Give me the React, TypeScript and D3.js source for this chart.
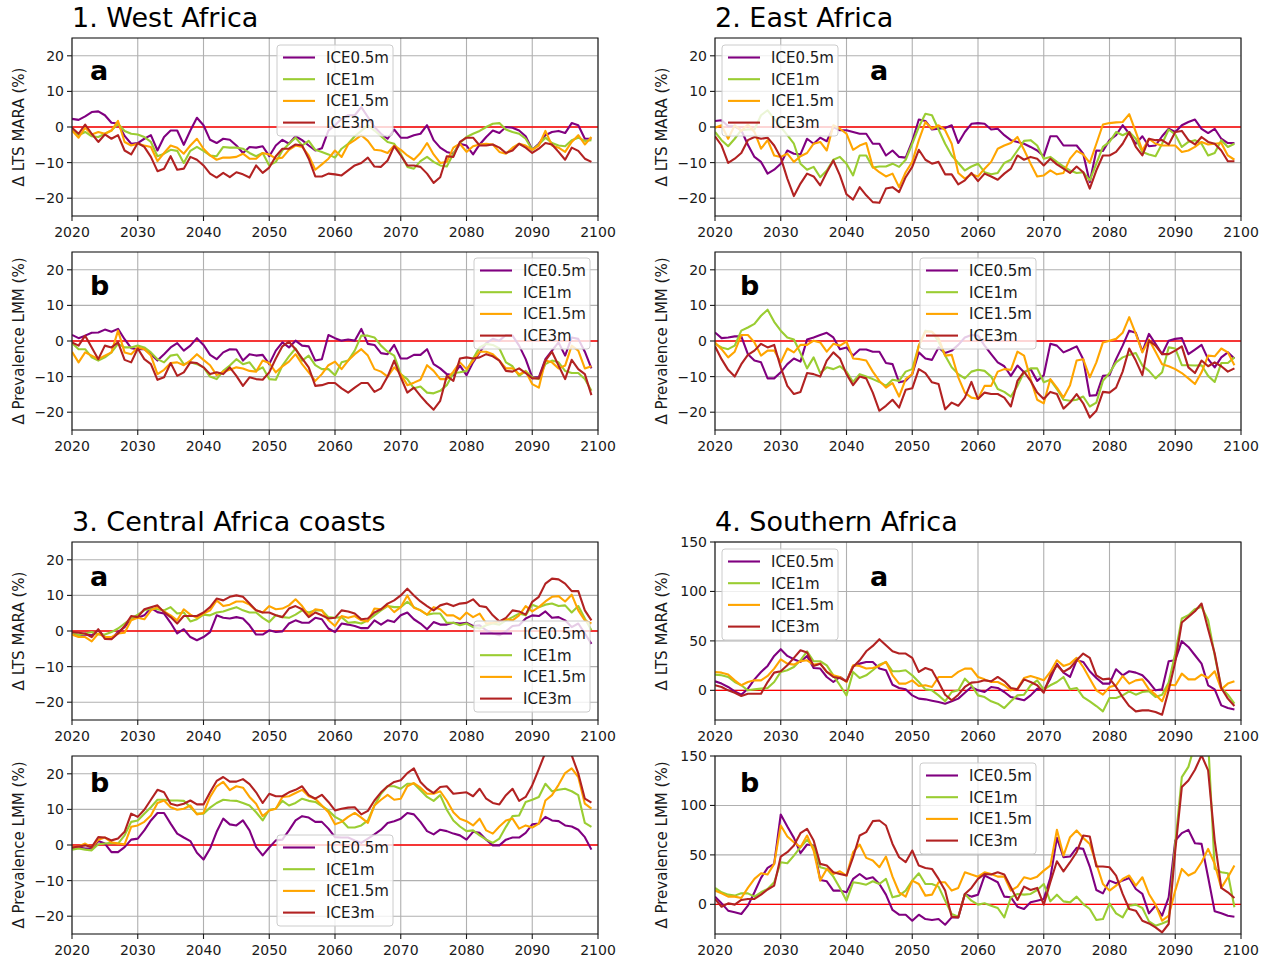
import React from "react";
import * as d3 from "d3";

// Annual values 2020–2099, change relative to baseline (%)
const years = d3.range(2020, 2100);
const seriesNames = ["ICE0.5m", "ICE1m", "ICE1.5m", "ICE3m"];
const seriesColors = ["#800080", "#9acd32", "#ffa500", "#b22222"];
const xTicks = [2020, 2030, 2040, 2050, 2060, 2070, 2080, 2090, 2100];
const smallTicks = [-20, -10, 0, 10, 20];
const largeTicks = [0, 50, 100, 150];

// 1. West Africa — LTS MARA
const westMara05 = [
  2.3, 2, 3, 4.2, 4.4, 3.3, 1.2, 1, -2.5, -4.7,
  -4.5, -3.3, -2.3, -6.6, -2.8, -1, -1, -5, -1, 2.6,
  0.5, -3.6, -4.5, -3.3, -3.6, -5.2, -7.3, -5.6, -5.8, -5.4,
  -8.2, -5.2, -3.6, -4.7, -2.6, -3.7, -5.2, -6.6, -6, -1,
  0.5, 2.3, 3.3, 3.3, 5.6, 2.8, 0, -1.9, -3.3, -0.7,
  -3, -3, -2.3, -1.9, 0.5, -3.7, -5.8, -7, -7.5, -4.7,
  -5.2, -7.7, -4.9, -2.8, -1, -1.7, 0, -0.2, -1, -2.6,
  -6.4, -4.7, -2.3, -1.4, -1.1, -1.7, 1.1, 0.5, -3.3, -3.3,
];
const westMara1 = [
  -1, -2.3, -1.4, -2.6, -2.8, -1.9, -1, 0.9, -1.1, -1.9,
  -2.1, -2.8, -4.2, -8.2, -7.5, -6.4, -6.7, -10.1, -6.7, -5.6,
  -6.7, -8, -8.2, -5.6, -5.8, -5.8, -6.1, -7.3, -8.2, -7.3,
  -10.8, -9.8, -6.6, -4.7, -3, -5.2, -3.9, -6.4, -7, -7.7,
  -8.6, -6.1, -4.7, -2.6, -1.1, 0.5, -1, -2.6, -4.2, -4.7,
  -7.5, -11.2, -11.7, -9.6, -8.4, -9.8, -10.8, -11.1, -7.5, -4.5,
  -2.8, -1.9, -1.1, 0, 0.9, 1.1, -0.7, -1.4, -1.9, -3.3,
  -6.4, -4.9, -3, -4.5, -5.2, -5.4, -3.7, -3, -3.9, -3.7,
];
const westMara15 = [
  -1, -3, -0.2, -2.1, -1.4, -1.9, -1, 1.7, -4.2, -5.2,
  -4.7, -5.2, -5.6, -9.6, -7.3, -5.2, -5.8, -7.5, -5.2, -3.3,
  -6.1, -8, -9.2, -8.6, -8.6, -8.4, -7.5, -8.9, -8.9, -7.3,
  -7.7, -8.9, -8.6, -6.4, -5.2, -5.6, -8, -12, -10.5, -8.9,
  -6.6, -8.4, -4.9, -3.7, -2.3, -3.9, -6.4, -6.6, -7.3, -5.2,
  -6.4, -8, -9.2, -7.3, -4.5, -7.7, -10.1, -9.8, -5.8, -4.7,
  -7, -5.4, -4.9, -4.7, -4.9, -7, -7.5, -5.8, -4.7, -5.2,
  -6.4, -5.2, -1.1, -5.2, -5.8, -7, -4.2, -2.3, -4.9, -2.8,
];
const westMara3 = [
  -0.2, -1.9, 0.7, -1.9, -4.2, -2.1, -3.3, -2.3, -6.6, -7.7,
  -4.5, -5.6, -8.4, -12.4, -11.7, -8.2, -12, -11.7, -8.4, -9.2,
  -10.8, -13.1, -14.2, -12.9, -14.1, -12.7, -13.3, -14.2, -10.8, -12.9,
  -11.4, -8.2, -6.1, -6.1, -4.9, -5.2, -8.9, -13.9, -13.9, -13.1,
  -13.3, -13.6, -12.2, -10.8, -10.1, -8.6, -11.1, -11.2, -9.4, -5.4,
  -8, -10.8, -10.8, -11.2, -13.1, -15.7, -14.1, -8.2, -8.4, -4.2,
  -3, -3, -5.2, -5.2, -4.9, -5.8, -7.3, -6.6, -4.7, -5.8,
  -7.3, -6.1, -4.5, -4.9, -7, -9.2, -5.8, -6.7, -8.9, -9.8,
];

// 1. West Africa — Prevalence LMM
const westPrev05 = [
  1.7, 0.8, 1.5, 2.3, 2.4, 3.2, 2.6, 3.4, 0.5, -2,
  -2.3, -2.3, -3.7, -5.5, -3.7, -1.8, -0.6, -2.7, -1.3, 0.8,
  -1.1, -3.9, -5.1, -3.2, -2.3, -2.4, -5.5, -3.7, -4.1, -3.9,
  -6.5, -2.7, -0.4, -1.8, 0.1, -1.3, -1.5, -5.5, -5.1, 1.7,
  0.8, 0.1, 0.4, 0.1, 3.4, -0.8, -1.1, -3.4, -3.7, -1.1,
  -4.9, -4.9, -3.9, -3.9, -2.3, -6.5, -7.7, -9.3, -9.6, -6.9,
  -9.6, -6, -3.2, -0.6, 0.6, 0.1, 1.7, 1.5, -1.3, -5.1,
  -10.2, -10.2, -5.1, -2.7, -0.4, -4.1, 1, 0.6, -3, -7.7,
];
const westPrev1 = [
  -0.6, -2.3, -2.3, -4.6, -5.5, -4.6, -3.2, -0.8, -1.8, -1.8,
  -1.3, -1.8, -3.2, -5.1, -6, -4.1, -3.8, -6.5, -6, -6.5,
  -7.4, -10, -10.7, -8.4, -6.9, -5.1, -6.5, -6, -8.4, -7.4,
  -10.7, -10.9, -6.9, -4.3, -2.1, -5.5, -4.1, -6.8, -7.9, -7.9,
  -9.6, -6, -5.5, -2.7, 1.5, 1.5, 1, -1.3, -3, -4.1,
  -9.3, -10.7, -13.3, -12.8, -14.5, -14.7, -14, -12.4, -9, -8.8,
  -8.4, -4.9, -1.8, -0.8, -1.1, -2.1, -6, -7.1, -9.8, -8.4,
  -10.2, -10.7, -6.5, -5.5, -6, -8.4, -9, -9, -10.7, -14,
];
const westPrev15 = [
  -3, -6, -3.2, -4.1, -5.1, -4.1, -3.2, 2.9, -3.2, -3.7,
  -1.8, -2.3, -4.1, -9.3, -8.1, -6.2, -6, -6.8, -5.5, -3.7,
  -5.3, -6.8, -9.6, -8.6, -8.1, -7.4, -7.7, -8.4, -8.6, -5.5,
  -6.2, -8.8, -7.1, -5.8, -3.7, -6.5, -8.8, -11.2, -9.3, -6.8,
  -5.8, -7.9, -5.5, -3.7, -2.3, -4.1, -7.9, -8.6, -10, -7.4,
  -9.3, -12.4, -11.7, -10.9, -6.8, -8.4, -10.7, -10.7, -8.6, -6,
  -7.9, -5.5, -3, -3, -3.7, -5.5, -7.7, -7.7, -9.3, -8.6,
  -12.1, -13.1, -5.5, -6, -7.7, -6.9, -1.3, -2.7, -7.7, -7.1,
];
const westPrev3 = [
  -0.4, -1.3, 1.5, -1.8, -5.1, -1.3, -1.8, -0.4, -5.3, -6,
  -2.1, -5.1, -6.5, -10.9, -10.2, -6.2, -9.8, -8.8, -6, -6.2,
  -7.4, -9.3, -8.8, -9.3, -7.4, -9.8, -12.6, -10.2, -10.7, -10.9,
  -8.8, -4.9, -1.5, -0.2, -2.3, -4.9, -7.4, -12.6, -12.4, -11.8,
  -11.8, -13.3, -14.5, -13.1, -11.8, -11.8, -14.3, -13.3, -10, -5.5,
  -10.2, -14.5, -13.1, -15.4, -17.5, -19.3, -16.8, -9.8, -11.2, -4.9,
  -4.6, -4.9, -4.6, -3.7, -4.3, -5.5, -8.4, -8.6, -7.7, -9,
  -10.5, -10.5, -5.5, -3, -6.9, -10.7, -5.3, -7.9, -9.3, -15.2,
];

// 2. East Africa — LTS MARA
const eastMara05 = [
  1.7, 1.9, 0.2, 0.2, -0.9, -5, -8.4, -9.8, -13.1, -12,
  -10.3, -6.6, -7.5, -7.7, -3.3, -4.7, -3, -4, 0, -0.9,
  -0.9, -1.4, -1.9, -1.9, -4.7, -4.7, -8, -6.6, -8.4, -8.6,
  -4, 2.1, 1.7, -0.7, -0.5, -0.3, 0.5, -4.5, -1.4, 0.9,
  1.1, 0.9, -0.7, -0.5, -2.3, -3.7, -4.2, -4.7, -5.6, -6.6,
  -8.2, -2.6, -2.6, -5.2, -5.2, -5.2, -7.5, -15.5, -6.6, -6.7,
  -3.7, -2.3, 0.5, -1.9, -4.7, -2.6, -5.4, -5.2, -2.6, -0.5,
  -1.4, 0.5, 1.4, 2.1, -0.5, -1.7, -0.5, -3.3, -4.5, -4.5,
];
const eastMara1 = [
  -1.4, -3.7, -5.4, -3.3, -0.9, -0.7, -0.7, 3.3, 4.7, 2.3,
  0, -2.3, -4.7, -10.3, -12, -11.2, -14.1, -12.2, -9.2, -8.4,
  -10.3, -13.6, -8, -8, -11.4, -11.1, -11.1, -10.3, -11.2, -9.2,
  -4.7, 0, 3.7, 3.3, -0.7, -4.7, -8, -10.1, -12.2, -11.1,
  -10.3, -12.7, -13.3, -12.9, -10.1, -9.2, -6.6, -3.9, -3.7, -5.2,
  -8.9, -8.4, -9.8, -11.1, -12.2, -12.9, -12.7, -15, -10.3, -5.6,
  -4.2, -1.4, -2.3, -1.4, -3.3, -7, -7.7, -8.2, -4.7, -0.7,
  -2.1, -5.6, -4.2, -3.7, -4.7, -8, -7.3, -3.7, -5.6, -4.7,
];
const eastMara15 = [
  -0.2, 0.5, -3.3, 0.5, -1.1, 0.7, -1.4, -6.1, -3.7, -8,
  -8.4, -7.5, -9.8, -8.2, -7.3, -4.7, -4.2, -6.6, 0.5, -0.5,
  -1.9, -6.4, -5.2, -4.5, -11.2, -12.7, -13.9, -13.1, -16.9, -12.7,
  -9.8, -3.7, 1.4, -0.5, 0.5, -0.9, -4.7, -12.9, -14.5, -13.3,
  -13.9, -11.7, -9.8, -6.1, -5.2, -4.5, -2.8, -6.4, -10.3, -13.9,
  -13.6, -12.2, -13.3, -12.9, -8.9, -6.7, -7.7, -10.1, -4.7, 0.7,
  1.1, 1.3, 1.4, 3.6, -1.4, -6.6, -3.3, -4.7, -5.2, -5.2,
  -5.2, -7, -6.6, -5.6, -4.2, -4.9, -4.7, -4.5, -8, -9.2,
];
const eastMara3 = [
  -2.6, -5.2, -10.1, -8.9, -7.3, -3.7, -2.8, -3.3, -3, -5.2,
  -8.6, -14.5, -19.4, -15.9, -13.1, -13.9, -16.4, -12.7, -9.4, -13.6,
  -18.9, -20.4, -16.9, -19.2, -21.1, -21.3, -17.3, -16.9, -18.3, -14.1,
  -11.2, -6.4, -9.2, -10.3, -9.8, -13.3, -13.3, -16.1, -15, -12.9,
  -15.2, -13.1, -13.9, -14.8, -13.1, -11.7, -8, -9.2, -8.4, -8.9,
  -10.8, -8.9, -10.5, -11.7, -12.9, -11.1, -12.7, -17.3, -12.2, -8,
  -8, -7, -4.7, -1.4, -5.6, -8, -3.3, -3.7, -3.7, -4.9,
  -1.4, -1.1, -3.7, -4.9, -2.8, -4.2, -4.7, -6.6, -9.6, -9.6,
];

// 2. East Africa — Prevalence LMM
const eastPrev05 = [
  2.4, 0.8, 1, 1.3, 1.3, -3.7, -5.5, -6, -10.5, -10.5,
  -8.8, -6.5, -4.9, -5.8, 0.4, 1, 1.7, 2.3, 1, -2.3,
  -1.8, -4.1, -2.4, -2.4, -3, -3, -6.2, -6.5, -11.6, -11.2,
  -9.3, -3.2, -4.9, -5.3, -1.8, -3.4, -2.7, -1.1, 1, 1.7,
  1.5, -1.3, -3.7, -6, -7.1, -9.8, -6.9, -8.8, -7.9, -11.2,
  -9.6, -0.8, -1.3, -3.2, -2.4, -1.5, -5.1, -15.4, -15.2, -9.8,
  -9.6, -5.1, -1.3, 2.9, 2.3, -3, 2, -0.8, -3.7, 0.1,
  0.6, 0.8, -3.7, -2.4, -1.1, -5.1, -7.4, -4.6, -3.2, -4.9,
];
const eastPrev1 = [
  -0.8, -1.8, -2.3, -1.3, 2.9, 3.8, 4.8, 7.1, 8.8, 5.4,
  2.9, 1, 0.4, -3.4, -7.7, -4.6, -9, -7.4, -7.9, -7.1,
  -8.6, -11.5, -9.3, -10, -10.7, -11.5, -12.6, -10.9, -11.2, -8.6,
  -7.9, -1.3, 2.9, 2.6, -0.2, -4.1, -7.4, -9.3, -10.5, -8.6,
  -8.1, -8.4, -10, -13.5, -14.3, -15.6, -12.6, -8.8, -7.7, -7.7,
  -11.6, -10.9, -13.5, -16.5, -16.8, -16.5, -15.6, -18.4, -17.3, -11.2,
  -9, -6, -4.6, -3.9, -3.4, -6.9, -8.4, -10.5, -8.8, -1.8,
  -2.1, -6.8, -6.8, -6.9, -6.8, -9.8, -11.5, -6.2, -6.2, -4.6,
];
const eastPrev15 = [
  -0.4, -2.3, -4.6, -3, 1.7, 1.7, -0.4, -4.1, -2.7, -2.7,
  -6, -2.1, -3.2, -1.1, -1.1, 0.1, -0.4, -3, -0.8, -1.3,
  -0.2, -4.9, -5.1, -5.5, -8.6, -11.2, -13.1, -11.8, -15.6, -10.7,
  -9.3, -1.3, 2.6, 2.6, 0.8, -4.1, -3.9, -10.2, -14.5, -15.9,
  -16.2, -12.6, -12.6, -8.6, -7.9, -8.1, -3, -4.1, -10.7, -16.5,
  -17.5, -10.7, -13.1, -15.9, -12.4, -5.5, -5.1, -10.2, -6, -0.4,
  0.1, 0.6, 2.3, 6.7, 2, -3.2, 0.4, -3, -6.5, -7.1,
  -7.9, -9, -10.5, -12.1, -8.8, -4.1, -4.3, -2.1, -3.2, -6.8,
];
const eastPrev3 = [
  -1.5, -5.1, -8.1, -10, -6.5, -3.9, -2.7, -0.8, -1.8, -1.1,
  -7.4, -12.6, -14.9, -14.3, -9, -9.3, -10, -5.5, -3.2, -4.9,
  -9.3, -12.4, -10, -10.5, -14.5, -19.6, -18.2, -16.5, -18.7, -13.7,
  -13.3, -7.9, -9, -11.6, -12.1, -19.2, -17.3, -18.2, -15.9, -11.5,
  -16.3, -14.5, -14.9, -14.9, -15.9, -18.4, -11.2, -8.6, -11.2, -14.5,
  -16.3, -14.3, -14.9, -19, -17.3, -14.9, -17.5, -21.5, -19.6, -14.3,
  -14.5, -13.1, -8.6, -2.1, -5.5, -9.6, 0.1, -1.3, -3.7, -3.7,
  -2.7, -1.5, -7.4, -9, -5.5, -7.1, -6, -7.1, -8.6, -7.7,
];

// 3. Central Africa coasts — LTS MARA
const centralMara05 = [
  -0.7, -1.2, -1, -1.2, 0.2, -1.7, -2.2, -0.3, 1.1, 3.5,
  3.7, 4.4, 6.5, 5.3, 4.9, 2.3, -0.7, 0.5, -1.7, -2.6,
  -1.7, -0.3, 4.4, 3.7, 3.5, 3.9, 3.5, 1.6, -1, -1,
  0.2, -0.3, -0.1, 2.1, 3, 2.3, 2.3, 3.7, 3.3, 0.7,
  -0.3, 2.1, 1.8, 1.4, 0.8, 0.8, 3, 1.8, 3, 2.5,
  4.4, 5.2, 3.3, 2.1, 0.5, 2.5, 1.8, 1.8, 2.3, 2.1,
  2.3, 1.4, 1.6, 0.2, -0.7, -1.2, -0.1, 1.4, 1.6, 3.5,
  4.4, 4.2, 5.5, 3.7, 3.9, 3, 1.1, 2.1, -0.7, -3.6,
];
const centralMara1 = [
  -0.3, -1.2, -0.7, -0.3, -1, -1, -0.3, 0.7, 2.1, 3.5,
  4.6, 5.8, 6.3, 6.1, 5.8, 6.7, 4.9, 5.2, 2.7, 3.3,
  4.6, 4.4, 5.2, 5.5, 6.1, 6.7, 5.8, 5.2, 5.2, 3.7,
  2.5, 4.4, 3.9, 3.7, 4.6, 5.8, 5.2, 5.8, 5.8, 3.9,
  3.7, 3.9, 2.3, 2.5, 2.1, 3, 4.4, 5.8, 7, 6.7,
  6.7, 8.2, 6.7, 5.8, 4.6, 4.9, 4.9, 2.3, 2.3, 1.6,
  2.1, 1.1, 0.7, 1.6, 2.1, 1.8, 3, 3.9, 4.9, 4.4,
  7.4, 6.7, 7.4, 7.7, 7, 7.2, 5.2, 7, 3.5, 0.2,
];
const centralMara15 = [
  -1, -1.7, -1.7, -2.9, -0.7, -1.7, -1.7, -0.7, -0.5, 3,
  3.7, 3.3, 5.8, 6.7, 5.5, 4.4, 3, 6.1, 4.6, 3.7,
  4.9, 5.8, 8.6, 7, 7.4, 8.3, 8.3, 7.4, 5.8, 5.2,
  7, 6.1, 6.3, 7.2, 8.9, 7, 4.4, 6.1, 5.8, 3,
  1.4, 4.2, 3.7, 4.2, 3, 2.7, 6.3, 6.1, 7.2, 5.3,
  6.7, 10, 6.5, 5.8, 4.6, 6.7, 6.1, 4.4, 4.4, 3.3,
  5.2, 3.9, 4.9, 2.1, 2.3, 2.7, 3.3, 3, 4.4, 7,
  5.5, 6.7, 8.3, 9.6, 9.8, 8.3, 10.2, 5.8, 3, 2.1,
];
const centralMara3 = [
  -0.3, -0.5, -0.7, -1.7, 0.5, -2.2, -2.3, -0.7, 1.4, 4.2,
  3.9, 6.1, 6.7, 7.2, 5.3, 3.9, 2.1, 4.2, 4.2, 4.2,
  5.2, 6.7, 9.1, 8.6, 9.6, 10, 9.6, 7.7, 5.8, 5.2,
  5.2, 4.4, 3.9, 6.3, 7, 6.1, 3.9, 5.2, 4.4, 3.5,
  3.7, 5.8, 5.5, 4.9, 3.3, 3.5, 5.2, 6.1, 7.7, 8.6,
  10, 11.9, 10, 8.3, 7, 5.8, 7.2, 7.7, 7, 7.7,
  7.9, 8.9, 7, 6.7, 4.4, 2.7, 3.7, 5.8, 5.5, 4.6,
  8.2, 9.6, 13.3, 14.7, 14.5, 13.3, 11.2, 11.2, 5.8, 3,
];

// 3. Central Africa coasts — Prevalence LMM
const centralPrev05 = [
  -1, -0.7, -1, -1, 1.1, 0.4, -2, -2, -0.6, 1.5,
  1.8, 4.1, 6.9, 9, 9, 6, 3.2, 2.1, 1.1, -2.2,
  -4.1, -1, 3.7, 7.4, 5.8, 5.5, 6.9, 4.1, -0.6, -2.9,
  -0.7, 1.3, 1.5, 4.1, 6.9, 8.1, 7.7, 6.5, 6.5, 4.6,
  2.2, 2.1, 2.1, 1.3, 0.6, 1.8, 3, 4.3, 6.2, 6.7,
  7.4, 9, 8.6, 6.5, 3.9, 3, 4.3, 3.9, 3.2, 2.7,
  1.5, 3.7, 3.4, 1.5, -0.1, -0.1, 1.5, 2.1, 2.1, 3.4,
  5.8, 6, 7.9, 6.9, 6.7, 5.5, 5.2, 4.3, 2.2, -1.3,
];
const centralPrev1 = [
  -1.3, -1, -1.3, -1.5, 0.2, 0.4, 0.6, 0.4, 2.7, 6.5,
  6.9, 8.8, 10.6, 12.7, 12.7, 12.5, 12.5, 12.4, 10.6, 8.8,
  8.8, 10.5, 11.8, 12.7, 12.5, 12.4, 11.8, 11.1, 9.2, 6.9,
  9.9, 10.2, 12.4, 11.1, 11.8, 13, 12.4, 12.1, 10.9, 9.7,
  7.9, 6.9, 4.9, 4.9, 5.5, 6.9, 11.1, 14.4, 16.5, 16.5,
  15.8, 17.2, 17.2, 15.4, 13.5, 12.4, 14, 9.9, 6.9, 5.2,
  3.9, 4.1, 2.7, 1.5, 0.6, 1.8, 5.1, 8.1, 8.3, 12.1,
  12.7, 13.5, 17.2, 15.1, 15.5, 15.8, 15.1, 14, 6.2, 5.1,
];
const centralPrev15 = [
  -0.6, -0.4, 0.4, -0.7, 1.5, 2.1, 0.8, 0.4, 0.2, 5.1,
  5.5, 6.5, 8.3, 11.8, 12.5, 10.6, 9.9, 10.2, 11.1, 8.6,
  9, 13.5, 16.5, 17.7, 15.4, 16.5, 16.1, 13.5, 11.6, 8.1,
  9.7, 10.2, 13.5, 13.7, 14.6, 15.5, 13.7, 13, 11.1, 9.2,
  5.8, 6.5, 7.9, 9, 7.7, 6.2, 11.1, 12.7, 14.1, 12.7,
  13, 16.5, 17.4, 16.1, 14.4, 14.4, 15.1, 12.5, 9.2, 7.4,
  6.7, 5.5, 7.4, 4.1, 3.2, 5.2, 6.9, 7.4, 4.6, 5.5,
  4.9, 6, 12.5, 14, 16.9, 20.2, 21.5, 19.1, 11.6, 10.2,
];
const centralPrev3 = [
  -0.7, -0.4, -0.1, -0.6, 2.2, 2.1, 1.3, 1.8, 3.7, 8.8,
  7.9, 9.9, 12.7, 15.5, 14.8, 11.6, 11.1, 11.6, 12.5, 11.4,
  11.4, 14.8, 18, 19.1, 17.8, 17.8, 18.5, 17.1, 14.8, 11.8,
  14.4, 13.7, 13.7, 14.8, 15.5, 16.5, 14, 13, 14.1, 12.1,
  9.7, 10.2, 10.5, 10.6, 8.6, 9.6, 12.5, 14.8, 16.5, 17.7,
  18.2, 20.2, 21.5, 17.7, 15.8, 14.6, 16.3, 16.5, 14.4, 14.6,
  14.8, 13.7, 15.8, 13, 11.8, 11.4, 14, 15.8, 12.4, 13.5,
  16.8, 21.3, 26, 29, 31, 29, 25.2, 20.1, 13, 11.9,
];

// 4. Southern Africa — LTS MARA
const southMara05 = [
  9.1, 6.8, 3.4, -1, -4.4, 1.7, 11.1, 18.6, 24.7, 34.8,
  41.6, 34.8, 31.4, 28.7, 34.8, 22.6, 22, 13.5, 8.4, 13.5,
  9.1, 24.7, 27, 28.7, 28.7, 22, 20.3, 5.7, 2.4, 1,
  -5.1, -8.4, -9.1, -10.5, -11.8, -13.5, -11.1, -8.4, -2.4, 3.4,
  0, -1.7, 3.4, 2.4, -1.7, -6.8, -8.4, -10.1, -5.1, 1.7,
  0, 11.8, 27, 17.9, 13.5, 30.4, 28.7, 19.3, 12.5, 6.8,
  6.8, 21.3, 15.2, 19.3, 17.9, 15.2, 8.4, 0, 1, 29.4,
  30.4, 49.7, 43.9, 35.5, 27, 5.1, 1, -15.2, -17.9, -19.3,
];
const southMara1 = [
  15.9, 15.2, 13.5, 8.4, 5.1, 0, 1, 1.7, 2.4, 8.4,
  18.6, 20.3, 23.6, 30.4, 39.5, 29.4, 29.4, 25.3, 15.2, 5.1,
  -5.1, 18.6, 12.5, 15.2, 20.3, 26, 28.7, 19.3, 19.3, 20.3,
  15.2, 8.4, 1, 0, -5.1, -11.1, -1.7, 0, 11.8, 5.1,
  -5.1, -6.8, -11.1, -13.5, -17.9, -11.1, -5.1, -4.4, 5.1, 10.1,
  1, 5.1, 8.4, 13.5, 1, 2.4, -6.8, -11.1, -15.9, -21.3,
  -7.8, -7.8, -5.1, -1, -4.4, -1.7, -1, -6.8, -4.4, 8,
  37.2, 72.6, 76, 82.1, 84.5, 70.9, 35.5, 2.4, -4.4, -13.5,
];
const southMara15 = [
  18.6, 17.9, 15.9, 10.1, 5.1, 8.4, 10.1, 10.1, 14.5, 22,
  31.4, 27, 26, 29.4, 30.4, 26, 27, 18.6, 15.2, 13.5,
  8.4, 25.3, 24.7, 22, 22.6, 24.7, 28.7, 15.2, 6.8, 6.8,
  10.1, 4.4, 5.1, 3.4, 13.5, 13.5, 13.5, 18.6, 22, 22,
  13.5, 11.1, 8.4, 8.4, 5.1, 0, 1.7, 12.5, 14.5, 12.5,
  10.1, 18.6, 30.4, 24.7, 27, 32.8, 23.6, 11.8, 0, -4.4,
  3.4, 5.1, 14.5, 6.8, 10.1, 11.1, 1, -4.4, -11.1, 5.7,
  5.1, 16.9, 11.1, 11.1, 15.9, 12.5, 19.3, 1, 6.8, 9.1,
];
const southMara3 = [
  5.1, 3.4, 0, -2.4, -5.7, -3.4, -3.4, -3.4, 8.4, 17.9,
  19.3, 25.3, 32.8, 40.5, 38.2, 24.7, 27, 18.6, 13.5, 12.5,
  9.1, 23.6, 30.4, 39.5, 44.9, 51.7, 45.6, 39.5, 37.2, 37.2,
  32.8, 18.6, 22.6, 20.3, 8.4, -4.4, -10.1, -4.4, 3.4, 7.8,
  8.4, 10.1, 9.1, 13.5, 9.1, 2.4, 1, 11.1, 8.4, 5.1,
  -2.4, 15.2, 25.3, 18.6, 22.6, 30.4, 37.2, 32.8, 15.2, 11.1,
  11.8, 3.4, -6.8, -15.9, -21.3, -20.3, -20.3, -22, -24.7, 0,
  28.7, 68.6, 74.3, 80, 87.8, 61.8, 37.2, 2.4, -8.4, -15.9,
];

// 4. Southern Africa — Prevalence LMM
const southPrev05 = [
  7.8, 1, -6.4, -8.1, -9.8, -1.4, 12.2, 26.7, 36.8, 40.9,
  90.9, 78.7, 67.2, 51.7, 60.5, 59.5, 24.7, 23.3, 13.9, 13.9,
  12.2, 25.7, 30.7, 25.7, 27.4, 20.6, 9.8, -5.7, -10.5, -10.5,
  -16.6, -10.5, -14.9, -15.9, -14.9, -20.6, -13.2, -13.2, 10.5, 7.8,
  9.8, 29.1, 25.7, 22.3, 7.8, 7.1, -2.4, -4.7, 2, 3.7,
  5.4, 26.7, 67.2, 47.6, 48.3, 57.1, 56.1, 38.2, 14.5, 11.1,
  24, 21.3, 24, 26.7, 15.5, 10.5, -9.1, -1.4, -11.5, 7.1,
  64.5, 72, 75.3, 61.8, 61.1, 27.4, -7.1, -9.1, -11.5, -12.5,
];
const southPrev1 = [
  16.6, 12.2, 9.8, 8.8, 11.1, 11.1, 7.8, 12.2, 15.5, 22.3,
  42.6, 41.6, 49.3, 57.8, 65.2, 57.8, 37.5, 35.8, 28, 16.6,
  3.7, 22.3, 21.3, 19.9, 23.3, 20.6, 25.7, 7.1, 8.8, 13.9,
  24, 31.4, 20.6, 20.6, 17.9, 3.7, -9.8, -12.5, 10.5, 3.7,
  -0.3, 1, -1.4, -3.7, -13.2, 7.1, 10.5, 9.8, 10.5, 14.5,
  20.6, 3, 9.8, 3, 2, 7.8, 0.3, -4.7, -15.9, -14.9,
  1, -9.1, -13.2, -1.4, -0.3, -3.7, -17.2, -21.6, -19.3, -16.6,
  61, 128.7, 139, 162, 170, 165, 35.8, 32.4, 31.4, -3,
];
const southPrev15 = [
  13.9, 11.1, 7.8, 7.8, 6.4, 16.6, 25.7, 31.4, 30.1, 40.9,
  79.7, 68.6, 62.8, 57.8, 69.6, 54.4, 24, 35.8, 30.7, 33.4,
  29.1, 52.7, 60.5, 47, 44.3, 37.5, 48.3, 28, 12.2, 7.8,
  24, 20.6, 8.8, 9.8, 22.3, 22.3, 13.9, 16.6, 32.4, 30.1,
  28, 32.4, 30.7, 28, 28, 13.9, 17.9, 27.4, 25.7, 28,
  34.1, 39.2, 75.3, 49.3, 67.9, 74.7, 67.2, 61.1, 40.9, 20.6,
  13.9, 18.9, 25.7, 29.1, 18.9, 27.4, 10.5, -0.3, -16.6, -11.5,
  13.9, 35.8, 29.1, 32.4, 42.6, 56.1, 40.9, 16.6, 27.4, 39.2,
];
const southPrev3 = [
  5.4, -2.4, 1, -0.3, 4.4, 5.4, 5.4, 9.8, 15, 19,
  48.3, 52.7, 59.5, 72, 76.4, 64.5, 40.9, 39.2, 32.4, 30.7,
  29.1, 47.6, 69.6, 73, 84.1, 84.8, 79.7, 61.1, 47.6, 42.6,
  54.4, 39.2, 36.8, 35.8, 25.7, 13.9, -12.5, -13.2, 10.5, 16.6,
  25.7, 30.7, 30.1, 32.4, 30.1, 17.2, 4.4, 17.9, 14.5, 16.6,
  -0.3, 22.3, 43.6, 33.4, 42.6, 52.7, 69.6, 68.6, 38.2, 38.2,
  37.5, 29.1, 10.5, -4.7, -6.4, -16.6, -19.3, -23.3, -28.4, -19.9,
  54.4, 118.6, 125.3, 136.1, 150.7, 135.5, 64.5, 16.6, 12.2, 6.4,
];

const FONT = "'DejaVu Sans', 'Liberation Sans', sans-serif";
const AX_W = 526;
const AX_H = 178;
const LEG_W = 116;
const LEG_H = 91;
const LEG_ROW = 21.7;

type PanelSpec = {
  id: string;
  left: number;
  top: number;
  domain: [number, number];
  ticks: number[];
  series: number[][];
  ylabel: string;
  letter: string;
  letterX: number;
  letterY: number;
  legendX: number;
  legendY: number;
};

const panels: PanelSpec[] = [
  { id: "w-a", left: 72, top: 38, domain: [-25, 25], ticks: smallTicks, series: [westMara05, westMara1, westMara15, westMara3], ylabel: "Δ LTS MARA (%)", letter: "a", letterX: 90, letterY: 80, legendX: 277, legendY: 45 },
  { id: "w-b", left: 72, top: 252, domain: [-25, 25], ticks: smallTicks, series: [westPrev05, westPrev1, westPrev15, westPrev3], ylabel: "Δ Prevalence LMM (%)", letter: "b", letterX: 90, letterY: 295, legendX: 474, legendY: 258 },
  { id: "e-a", left: 715, top: 38, domain: [-25, 25], ticks: smallTicks, series: [eastMara05, eastMara1, eastMara15, eastMara3], ylabel: "Δ LTS MARA (%)", letter: "a", letterX: 870, letterY: 80, legendX: 722, legendY: 45 },
  { id: "e-b", left: 715, top: 252, domain: [-25, 25], ticks: smallTicks, series: [eastPrev05, eastPrev1, eastPrev15, eastPrev3], ylabel: "Δ Prevalence LMM (%)", letter: "b", letterX: 740, letterY: 295, legendX: 920, legendY: 258 },
  { id: "c-a", left: 72, top: 542, domain: [-25, 25], ticks: smallTicks, series: [centralMara05, centralMara1, centralMara15, centralMara3], ylabel: "Δ LTS MARA (%)", letter: "a", letterX: 90, letterY: 586, legendX: 474, legendY: 621 },
  { id: "c-b", left: 72, top: 756, domain: [-25, 25], ticks: smallTicks, series: [centralPrev05, centralPrev1, centralPrev15, centralPrev3], ylabel: "Δ Prevalence LMM (%)", letter: "b", letterX: 90, letterY: 792, legendX: 277, legendY: 835 },
  { id: "s-a", left: 715, top: 542, domain: [-30, 150], ticks: largeTicks, series: [southMara05, southMara1, southMara15, southMara3], ylabel: "Δ LTS MARA (%)", letter: "a", letterX: 870, letterY: 586, legendX: 722, legendY: 549 },
  { id: "s-b", left: 715, top: 756, domain: [-30, 150], ticks: largeTicks, series: [southPrev05, southPrev1, southPrev15, southPrev3], ylabel: "Δ Prevalence LMM (%)", letter: "b", letterX: 740, letterY: 792, legendX: 920, legendY: 763 },
];

const titles = [
  { text: "1. West Africa", x: 72, y: 27 },
  { text: "2. East Africa", x: 715, y: 27 },
  { text: "3. Central Africa coasts", x: 72, y: 531 },
  { text: "4. Southern Africa", x: 715, y: 531 },
];

const fmt = (v: number) => (v < 0 ? "\u2212" + Math.abs(v) : String(v));

function Panel({ p }: { p: PanelSpec }) {
  const x = d3.scaleLinear().domain([2020, 2100]).range([p.left, p.left + AX_W]);
  const y = d3.scaleLinear().domain(p.domain).range([p.top + AX_H, p.top]);
  const line = d3
    .line<number>()
    .x((_, i) => x(years[i]))
    .y((v) => y(v));
  const clipId = `clip-${p.id}`;
  const bottom = p.top + AX_H;
  const right = p.left + AX_W;
  return (
    <g>
      <defs>
        <clipPath id={clipId}>
          <rect x={p.left} y={p.top} width={AX_W} height={AX_H} />
        </clipPath>
      </defs>
      {/* grid */}
      <g stroke="#b0b0b0" strokeWidth={1.1}>
        {xTicks.map((t) => (
          <line key={"gx" + t} x1={x(t)} x2={x(t)} y1={p.top} y2={bottom} />
        ))}
        {p.ticks.map((t) => (
          <line key={"gy" + t} x1={p.left} x2={right} y1={y(t)} y2={y(t)} />
        ))}
      </g>
      <g clipPath={`url(#${clipId})`}>
        <line x1={p.left} x2={right} y1={y(0)} y2={y(0)} stroke="#ff0000" strokeWidth={1.3} />
        {p.series.map((s, i) => (
          <path
            key={i}
            d={line(s) || ""}
            fill="none"
            stroke={seriesColors[i]}
            strokeWidth={2.1}
            strokeLinejoin="round"
          />
        ))}
      </g>
      {/* spines */}
      <rect x={p.left} y={p.top} width={AX_W} height={AX_H} fill="none" stroke="#1a1a1a" strokeWidth={1.1} />
      {/* x ticks */}
      <g fontFamily={FONT} fontSize={14} fill="#1a1a1a">
        {xTicks.map((t) => (
          <g key={"tx" + t}>
            <line x1={x(t)} x2={x(t)} y1={bottom} y2={bottom + 5} stroke="#1a1a1a" strokeWidth={1.1} />
            <text x={x(t)} y={bottom + 21} textAnchor="middle">
              {t}
            </text>
          </g>
        ))}
        {p.ticks.map((t) => (
          <g key={"ty" + t}>
            <line x1={p.left - 5} x2={p.left} y1={y(t)} y2={y(t)} stroke="#1a1a1a" strokeWidth={1.1} />
            <text x={p.left - 8} y={y(t)} dy="0.36em" textAnchor="end">
              {fmt(t)}
            </text>
          </g>
        ))}
      </g>
      {/* y label */}
      <text
        transform={`translate(${p.left - 48},${p.top + AX_H / 2}) rotate(-90)`}
        textAnchor="middle"
        fontFamily={FONT}
        fontSize={15}
        fill="#1a1a1a"
      >
        {p.ylabel}
      </text>
      {/* panel letter */}
      <text x={p.letterX} y={p.letterY} fontFamily={FONT} fontSize={27} fontWeight="bold" fill="#000">
        {p.letter}
      </text>
      {/* legend */}
      <g>
        <rect
          x={p.legendX}
          y={p.legendY}
          width={LEG_W}
          height={LEG_H}
          rx={3}
          fill="#ffffff"
          fillOpacity={0.8}
          stroke="#cccccc"
          strokeWidth={1}
        />
        {seriesNames.map((name, i) => {
          const cy = p.legendY + 12.5 + i * LEG_ROW;
          return (
            <g key={name}>
              <line x1={p.legendX + 6} x2={p.legendX + 38} y1={cy} y2={cy} stroke={seriesColors[i]} strokeWidth={2.1} />
              <text x={p.legendX + 49} y={cy} dy="0.36em" fontFamily={FONT} fontSize={15} fill="#1a1a1a">
                {name}
              </text>
            </g>
          );
        })}
      </g>
    </g>
  );
}

export default function App() {
  return (
    <svg
      width={1271}
      height={962}
      viewBox="0 0 1271 962"
      style={{ position: "absolute", left: 0, top: 0, background: "#fff" }}
    >
      <rect width={1271} height={962} fill="#fff" />
      {titles.map((t) => (
        <text key={t.text} x={t.x} y={t.y} fontFamily={FONT} fontSize={27} fill="#000">
          {t.text}
        </text>
      ))}
      {panels.map((p) => (
        <Panel key={p.id} p={p} />
      ))}
    </svg>
  );
}
